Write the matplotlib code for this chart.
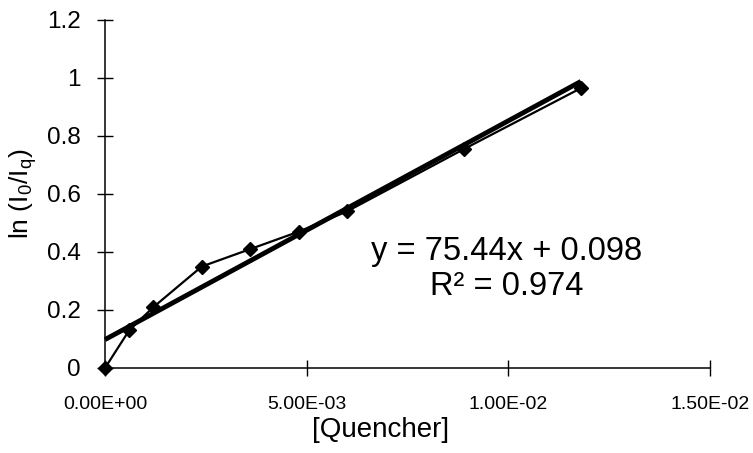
import numpy as np
import matplotlib
matplotlib.use('Agg')
import matplotlib.pyplot as plt
from matplotlib.ticker import FuncFormatter

# data
quencher = [0.0, 6.0e-4, 1.2e-3, 2.4e-3, 3.6e-3, 4.8e-3, 6.0e-3, 8.9e-3, 1.18e-2]
ln_ratio = [0.0, 0.13, 0.21, 0.35, 0.41, 0.47, 0.54, 0.755, 0.965]
slope = 75.44
intercept = 0.098
r_squared = 0.974

x_ticks = [0.0, 5.0e-3, 1.0e-2, 1.5e-2]
y_ticks = [0.0, 0.2, 0.4, 0.6, 0.8, 1.0, 1.2]

plt.rcParams['font.family'] = ['Liberation Sans', 'DejaVu Sans']

fig = plt.figure(figsize=(7.53, 4.53), dpi=100)
ax = fig.add_axes([105 / 753, 1 - 368 / 453, 605 / 753, 348 / 453])

# data series
ax.plot(quencher, ln_ratio, color='black', linewidth=1.6, marker='D',
        markersize=7.5, clip_on=False, zorder=3)

# linear trendline
fit_x = np.array([quencher[0], quencher[-1]])
ax.plot(fit_x, slope * fit_x + intercept, color='black', linewidth=3.5,
        solid_capstyle='butt', clip_on=False, zorder=2)

ax.text(0.00995, 0.342, f"y = {slope}x + {intercept}\nR\u00b2 = {r_squared}",
        ha='center', va='center', fontsize=23.5, linespacing=1.15)

ax.set_xlim(0, 0.015)
ax.set_ylim(0, 1.2)
ax.set_xticks(x_ticks)
ax.set_yticks(y_ticks)
ax.xaxis.set_major_formatter(FuncFormatter(lambda v, p: f"{v:.2E}"))
ax.yaxis.set_major_formatter(FuncFormatter(lambda v, p: f"{v:g}"))

ax.tick_params(axis='both', direction='inout', length=11, width=1, color='black')
ax.tick_params(axis='y', labelsize=17.5, pad=12)
ax.tick_params(axis='x', labelsize=14, pad=15)

for side in ['top', 'right']:
    ax.spines[side].set_visible(False)
for side in ['left', 'bottom']:
    ax.spines[side].set_linewidth(1.1)

ax.set_xlabel('[Quencher]', fontsize=20)
ax.xaxis.set_label_coords(0.455, -0.178)
ax.xaxis.label.set_va('center')
ax.set_ylabel(r'ln (I$_\mathregular{0}$/I$_\mathregular{q}$)', fontsize=19)
ax.yaxis.set_label_coords(-0.1355, 0.5)
ax.yaxis.label.set_va('center')

fig.savefig('out.png', dpi=100)
plt.close(fig)
